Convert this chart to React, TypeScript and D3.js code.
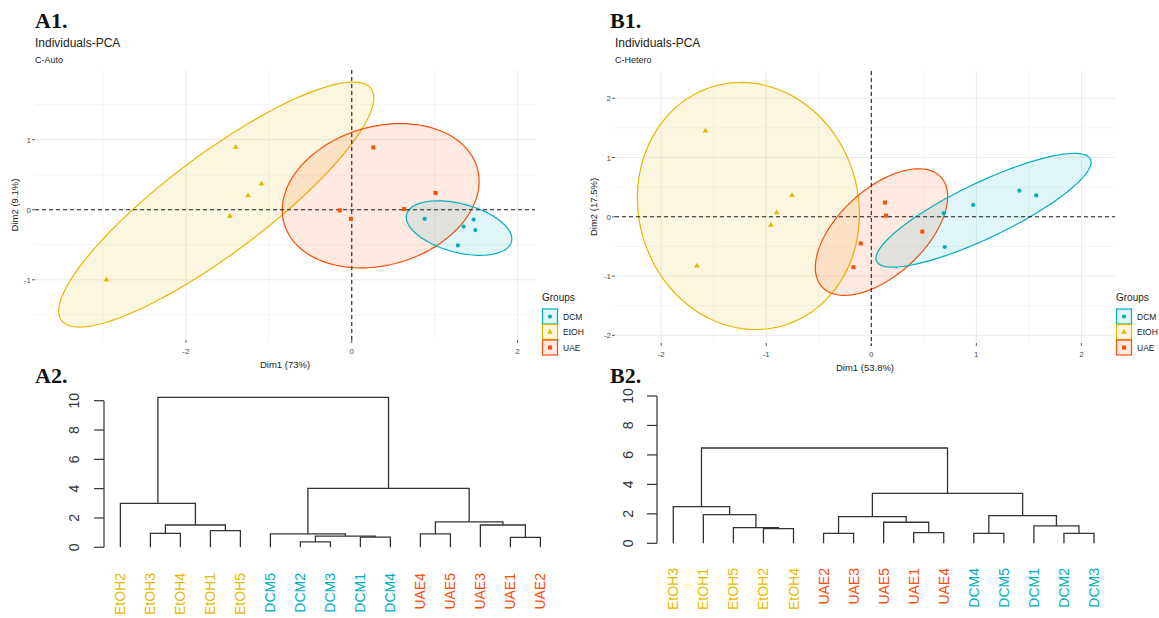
import React from "react";
import * as d3 from "d3";

const groups = ["DCM", "EtOH", "UAE"];
const groupColors = ["#00AFBB", "#E7B800", "#FC4E07"];

// ---- A1 (C-Auto) PCA individuals ----
const a1DcmPts = [[0.88, -0.13], [1.35, -0.24], [1.47, -0.14], [1.49, -0.29], [1.28, -0.51]];
const a1EtohPts = [[-1.4, 0.89], [-1.09, 0.37], [-1.25, 0.2], [-1.47, -0.09], [-2.96, -1.0]];
const a1UaePts = [[0.26, 0.89], [1.01, 0.24], [-0.145, -0.01], [-0.01, -0.13], [0.63, 0.01]];
// ellipse shape per group: [x half-extent, y half-extent, correlation]
const a1EllDcm = [0.636, 0.389, -0.4];
const a1EllEtoh = [1.9, 1.75, 0.869];
const a1EllUae = [1.187, 1.03, 0.2];
const a1XTicks = [-2, 0, 2];
const a1XMinor = [-3, -1, 1];
const a1YTicks = [-1, 0, 1];
const a1YMinor = [-1.5, -0.5, 0.5, 1.5];

// ---- B1 (C-Hetero) PCA individuals ----
const b1DcmPts = [[1.41, 0.44], [1.57, 0.36], [0.97, 0.2], [0.69, 0.06], [0.7, -0.51]];
const b1EtohPts = [[-1.58, 1.45], [-0.755, 0.36], [-0.9, 0.07], [-0.955, -0.14], [-1.66, -0.83]];
const b1UaePts = [[0.13, 0.24], [0.14, 0.02], [0.485, -0.25], [-0.1, -0.45], [-0.17, -0.85]];
const b1EllDcm = [1.024, 0.96, 0.845];
const b1EllEtoh = [1.057, 2.085, -0.065];
const b1EllUae = [0.63, 1.068, 0.56];
const b1XTicks = [-2, -1, 0, 1, 2];
const b1XMinor = [-1.5, -0.5, 0.5, 1.5];
const b1YTicks = [-2, -1, 0, 1, 2];
const b1YMinor = [-1.5, -0.5, 0.5, 1.5];

// ---- A2 dendrogram ----
const a2Leaves = ["EtOH2", "EtOH3", "EtOH4", "EtOH1", "EtOH5", "DCM5", "DCM2", "DCM3", "DCM1", "DCM4", "UAE4", "UAE5", "UAE3", "UAE1", "UAE2"];
const a2Merges: [string, string, string, number][] = [
  ["n1", "DCM2", "DCM3", 0.37],
  ["n2", "UAE1", "UAE2", 0.68],
  ["n3", "DCM1", "DCM4", 0.7],
  ["n4", "n1", "n3", 0.76],
  ["n5", "UAE4", "UAE5", 0.91],
  ["n6", "DCM5", "n4", 0.92],
  ["n7", "EtOH3", "EtOH4", 0.95],
  ["n8", "EtOH1", "EtOH5", 1.14],
  ["n9", "UAE3", "n2", 1.52],
  ["n10", "n7", "n8", 1.52],
  ["n11", "n5", "n9", 1.73],
  ["n12", "EtOH2", "n10", 3.0],
  ["n13", "n6", "n11", 4.02],
  ["n14", "n12", "n13", 10.23],
];

// ---- B2 dendrogram ----
const b2Leaves = ["EtOH3", "EtOH1", "EtOH5", "EtOH2", "EtOH4", "UAE2", "UAE3", "UAE5", "UAE1", "UAE4", "DCM4", "DCM5", "DCM1", "DCM2", "DCM3"];
const b2Merges: [string, string, string, number][] = [
  ["m1", "UAE2", "UAE3", 0.68],
  ["m2", "DCM4", "DCM5", 0.68],
  ["m3", "DCM2", "DCM3", 0.68],
  ["m4", "UAE1", "UAE4", 0.72],
  ["m5", "EtOH2", "EtOH4", 1.0],
  ["m6", "EtOH5", "m5", 1.06],
  ["m7", "DCM1", "m3", 1.18],
  ["m8", "UAE5", "m4", 1.43],
  ["m9", "m1", "m8", 1.81],
  ["m10", "m2", "m7", 1.88],
  ["m11", "EtOH1", "m6", 1.95],
  ["m12", "EtOH3", "m11", 2.49],
  ["m13", "m9", "m10", 3.39],
  ["m14", "m12", "m13", 6.47],
];
const dendroTicks = [0, 2, 4, 6, 8, 10];

const SANS = "'Liberation Sans', Arial, sans-serif";
const SERIF = "'Liberation Serif', 'Times New Roman', serif";

const symbolTypes = [d3.symbolCircle, d3.symbolTriangle, d3.symbolSquare];
const symbolSizes = [14, 14, 16];

function ellipsePoints(pts: number[][], shape: number[]) {
  const cx = d3.mean(pts, (p) => p[0]) as number;
  const cy = d3.mean(pts, (p) => p[1]) as number;
  const [sx, sy, r] = shape;
  const q = Math.sqrt(1 - r * r);
  return d3.range(0, 121).map((i) => {
    const t = (i / 120) * Math.PI * 2;
    return [cx + sx * Math.cos(t), cy + sy * (r * Math.cos(t) + q * Math.sin(t))];
  });
}

type PcaProps = {
  left: number; right: number; top: number; bottom: number;
  xDomain: number[]; yDomain: number[];
  pts: number[][][]; ells: number[][];
  xTicks: number[]; xMinor: number[]; yTicks: number[]; yMinor: number[];
  tag: string; tagX: number; sub: string; xTitle: string; yTitle: string; yTitleX: number;
  legendX: number;
};

function PcaPanel(p: PcaProps) {
  const x = d3.scaleLinear().domain(p.xDomain).range([p.left, p.right]);
  const y = d3.scaleLinear().domain(p.yDomain).range([p.bottom, p.top]);
  const line = d3.line<number[]>().x((d) => x(d[0])).y((d) => y(d[1])).curve(d3.curveLinearClosed);
  const order = [1, 2, 0];
  return (
    <g>
      <text x={p.tagX} y={28} fontFamily={SERIF} fontWeight="bold" fontSize={22} fill="#111">{p.tag}</text>
      <text x={p.left} y={47} fontFamily={SANS} fontSize={12} fill="#222">Individuals-PCA</text>
      <text x={p.left} y={63} fontFamily={SANS} fontSize={9} fill="#222">{p.sub}</text>
      {/* grid */}
      {p.xMinor.map((v) => <line key={"xm" + v} x1={x(v)} x2={x(v)} y1={p.top} y2={p.bottom} stroke="#f2f2f2" strokeWidth={0.8} />)}
      {p.yMinor.map((v) => <line key={"ym" + v} y1={y(v)} y2={y(v)} x1={p.left} x2={p.right} stroke="#f2f2f2" strokeWidth={0.8} />)}
      {p.xTicks.map((v) => <line key={"xg" + v} x1={x(v)} x2={x(v)} y1={p.top} y2={p.bottom} stroke="#ebebeb" strokeWidth={1} />)}
      {p.yTicks.map((v) => <line key={"yg" + v} y1={y(v)} y2={y(v)} x1={p.left} x2={p.right} stroke="#ebebeb" strokeWidth={1} />)}
      {/* ellipses */}
      {order.map((gi) => (
        <path key={"e" + gi} d={line(ellipsePoints(p.pts[gi], p.ells[gi])) as string}
          fill={groupColors[gi]} fillOpacity={0.12} stroke={groupColors[gi]} strokeWidth={1.2} />
      ))}
      {/* reference lines */}
      <line x1={x(0)} x2={x(0)} y1={p.top} y2={p.bottom + 3} stroke="#222" strokeWidth={1.1} strokeDasharray="4,3" />
      <line x1={p.left} x2={p.right} y1={y(0)} y2={y(0)} stroke="#222" strokeWidth={1.1} strokeDasharray="4,3" />
      {/* points */}
      {order.map((gi) => p.pts[gi].map((d, i) => (
        <path key={"p" + gi + "-" + i} transform={`translate(${x(d[0])},${y(d[1])})`}
          d={d3.symbol().type(symbolTypes[gi]).size(symbolSizes[gi])() as string} fill={groupColors[gi]} />
      )))}
      {/* axes */}
      {p.xTicks.map((v) => (
        <g key={"xt" + v}>
          <line x1={x(v)} x2={x(v)} y1={p.bottom} y2={p.bottom + 3} stroke="#333" strokeWidth={0.8} />
          <text x={x(v)} y={p.bottom + 14} textAnchor="middle" fontFamily={SANS} fontSize={8} fill="#4d4d4d">{v}</text>
        </g>
      ))}
      {p.yTicks.map((v) => (
        <g key={"yt" + v}>
          <line x1={p.left - 3} x2={p.left} y1={y(v)} y2={y(v)} stroke="#333" strokeWidth={0.8} />
          <text x={p.left - 4} y={y(v) + 3} textAnchor="end" fontFamily={SANS} fontSize={8} fill="#4d4d4d">{v}</text>
        </g>
      ))}
      <text x={(p.left + p.right) / 2} y={p.bottom + 28} textAnchor="middle" fontFamily={SANS} fontSize={9.5} fill="#222">{p.xTitle}</text>
      <text transform={`translate(${p.yTitleX},${(p.top + p.bottom) / 2}) rotate(-90)`} textAnchor="middle"
        fontFamily={SANS} fontSize={9.5} fill="#222" dominantBaseline="central">{p.yTitle}</text>
      {/* legend */}
      <text x={p.legendX} y={301} fontFamily={SANS} fontSize={10} fill="#222">Groups</text>
      {groups.map((g, gi) => (
        <g key={"lg" + g}>
          <rect x={p.legendX + 0.5} y={309 + gi * 15.5} width={15} height={15} fill={groupColors[gi]} fillOpacity={0.12}
            stroke={groupColors[gi]} strokeWidth={1.2} />
          <path transform={`translate(${p.legendX + 8},${309 + gi * 15.5 + 7.5})`}
            d={d3.symbol().type(symbolTypes[gi]).size(symbolSizes[gi])() as string} fill={groupColors[gi]} />
          <text x={p.legendX + 21} y={309 + gi * 15.5 + 10.5} fontFamily={SANS} fontSize={8.5} fill="#222">{g}</text>
        </g>
      ))}
    </g>
  );
}

function leafColor(name: string) {
  if (name.startsWith("EtOH")) return groupColors[1];
  if (name.startsWith("DCM")) return groupColors[0];
  return groupColors[2];
}

type DendroProps = {
  leaves: string[]; merges: [string, string, string, number][];
  xRange: number[]; y0: number; y10: number; axisX: number; labelX: number; labelTop: number;
  tag: string; tagX: number;
};

function Dendrogram(p: DendroProps) {
  const x = d3.scalePoint().domain(p.leaves).range(p.xRange as [number, number]);
  const y = d3.scaleLinear().domain([0, 10]).range([p.y0, p.y10]);
  const pos: Record<string, [number, number]> = {};
  p.leaves.forEach((l) => (pos[l] = [x(l) as number, 0]));
  const paths: string[] = [];
  p.merges.forEach(([id, a, b, h]) => {
    const [xa, ha] = pos[a];
    const [xb, hb] = pos[b];
    paths.push(`M${xa},${y(ha)}V${y(h)}H${xb}V${y(hb)}`);
    pos[id] = [(xa + xb) / 2, h];
  });
  return (
    <g>
      <text x={p.tagX} y={383} fontFamily={SERIF} fontWeight="bold" fontSize={22} fill="#111">{p.tag}</text>
      <line x1={p.axisX} x2={p.axisX} y1={y(0)} y2={y(10)} stroke="#333" strokeWidth={1.2} />
      {dendroTicks.map((t) => (
        <g key={"t" + t}>
          <line x1={p.axisX - 10} x2={p.axisX} y1={y(t)} y2={y(t)} stroke="#333" strokeWidth={1.2} />
          <text transform={`translate(${p.labelX},${y(t)}) rotate(-90)`} textAnchor="middle" dominantBaseline="central"
            fontFamily={SANS} fontSize={14} fill="#333">{t}</text>
        </g>
      ))}
      {paths.map((d, i) => <path key={"d" + i} d={d} fill="none" stroke="#333" strokeWidth={1.3} />)}
      {p.leaves.map((l) => (
        <text key={l} transform={`translate(${x(l)},${p.labelTop}) rotate(-90)`} textAnchor="end" dominantBaseline="central"
          fontFamily={SANS} fontSize={14} fill={leafColor(l)}>{l}</text>
      ))}
    </g>
  );
}

export default function App() {
  return (
    <svg width={1159} height={618} style={{ position: "absolute", left: 0, top: 0, background: "#fff" }}>
      <rect width={1159} height={618} fill="#fff" />
      <PcaPanel left={35} right={535} top={70} bottom={340} xDomain={[-3.82, 2.21]} yDomain={[-1.86, 1.995]}
        pts={[a1DcmPts, a1EtohPts, a1UaePts]} ells={[a1EllDcm, a1EllEtoh, a1EllUae]}
        xTicks={a1XTicks} xMinor={a1XMinor} yTicks={a1YTicks} yMinor={a1YMinor}
        tag="A1." tagX={35} sub="C-Auto" xTitle="Dim1 (73%)" yTitle="Dim2 (9.1%)" yTitleX={14} legendX={542} />
      <PcaPanel left={615} right={1115} top={71} bottom={343} xDomain={[-2.44, 2.32]} yDomain={[-2.13, 2.46]}
        pts={[b1DcmPts, b1EtohPts, b1UaePts]} ells={[b1EllDcm, b1EllEtoh, b1EllUae]}
        xTicks={b1XTicks} xMinor={b1XMinor} yTicks={b1YTicks} yMinor={b1YMinor}
        tag="B1." tagX={610} sub="C-Hetero" xTitle="Dim1 (53.8%)" yTitle="Dim2 (17.5%)" yTitleX={593} legendX={1116} />
      <Dendrogram leaves={a2Leaves} merges={a2Merges} xRange={[120.4, 540.4]} y0={547.3} y10={400.7}
        axisX={104} labelX={74} labelTop={573} tag="A2." tagX={35} />
      <Dendrogram leaves={b2Leaves} merges={b2Merges} xRange={[673.3, 1094]} y0={543.3} y10={396}
        axisX={657} labelX={628} labelTop={568} tag="B2." tagX={610} />
    </svg>
  );
}
